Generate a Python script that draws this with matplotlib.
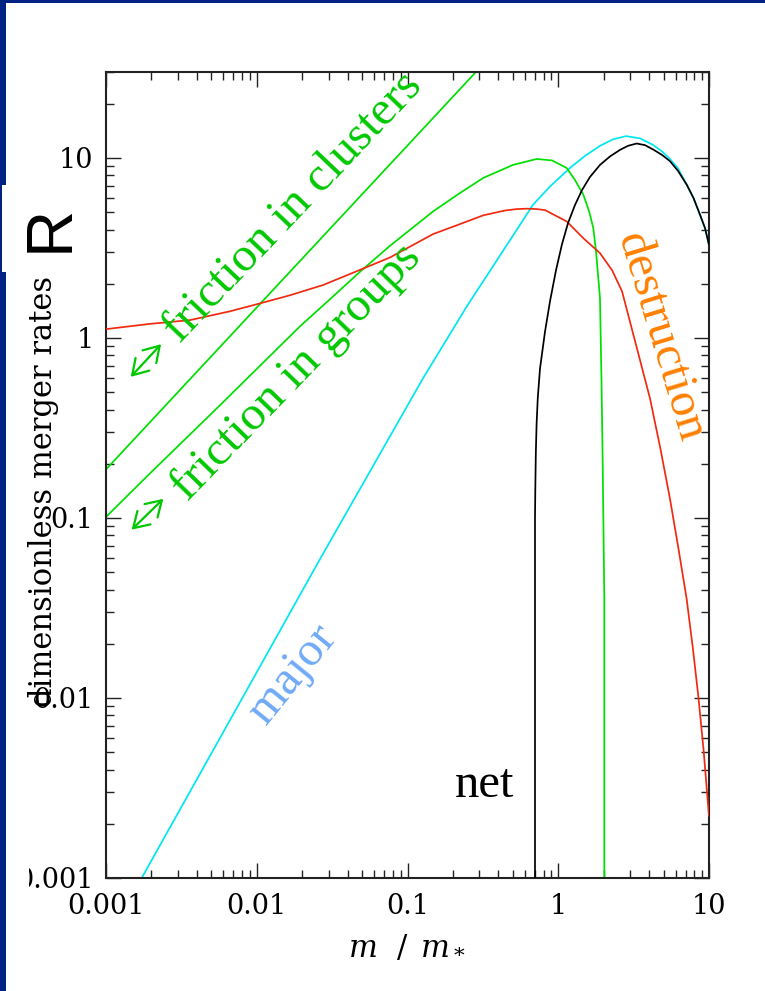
import matplotlib
matplotlib.use("Agg")
import matplotlib.pyplot as plt
from matplotlib.patches import Rectangle
from matplotlib.ticker import FixedLocator, FixedFormatter, LogLocator, NullFormatter

# ---- data: dimensionless merger rates versus m / m_* ----
# major mergers
major_m = [0.001725, 0.02628, 0.1273, 0.2500, 0.4002, 0.6800, 0.8815, 1.1965,
           1.5045, 1.892, 2.3076, 2.814, 3.4855, 4.2512, 4.878, 5.511, 6.231,
           7.114, 7.892, 8.716, 9.408, 10.0]
major_R = [0.001, 0.05909, 0.6003, 1.5174, 2.773, 5.492, 6.938, 8.790,
           10.26, 11.67, 12.68, 13.21, 12.84, 11.81, 10.87, 9.863, 8.740,
           7.100, 5.986, 4.833, 4.074, 3.289]

# net rate
net_m = [0.701, 0.701, 0.7044, 0.7098, 0.7185, 0.731, 0.7568, 0.8168, 0.8815,
         0.9663, 1.059, 1.161, 1.291, 1.438, 1.624, 1.892, 2.204, 2.568,
         2.902, 3.314, 3.763, 4.271, 4.878, 5.511, 6.231, 7.114, 7.892,
         8.716, 9.408, 10.0]
net_R = [0.001, 0.0987, 0.1451, 0.2272, 0.3341, 0.4603, 0.676, 1.083, 1.597,
         2.377, 3.318, 4.344, 5.472, 6.632, 7.839, 9.141, 10.19, 11.08,
         11.67, 12.02, 11.77, 11.12, 10.39, 9.585, 8.466, 7.100, 5.986,
         4.833, 4.074, 3.289]

# dynamical friction in groups
groups_m = [0.001, 0.00196, 0.00556, 0.01936, 0.0306, 0.0484, 0.0766, 0.148,
            0.223, 0.318, 0.501, 0.719, 0.909, 1.138, 1.291, 1.466, 1.600,
            1.708, 1.778, 1.844, 1.892, 1.936, 1.973, 1.996, 2.021, 2.021]
groups_R = [0.1013, 0.177, 0.414, 1.16, 1.640, 2.33, 3.250, 5.047,
            6.383, 7.738, 9.141, 9.863, 9.68, 8.79, 7.535, 6.25, 5.07,
            4.074, 3.069, 2.143, 1.660, 0.573, 0.195, 0.0836, 0.0354, 0.001]

# dynamical friction in clusters (power law)
clusters_m = [0.001, 1.0]
clusters_R = [0.186, 93.0]

# destruction
destr_m = [0.001, 0.00196, 0.00361, 0.00665, 0.01, 0.01663, 0.0276, 0.0484,
           0.0766, 0.148, 0.223, 0.318, 0.444, 0.530, 0.618, 0.717, 0.817,
           1.138, 1.466, 1.892, 2.275, 2.649, 3.327, 4.064, 4.764, 5.508,
           6.281, 7.112, 7.834, 8.492, 9.204, 10.0]
destr_R = [1.119, 1.197, 1.256, 1.406, 1.538, 1.726, 1.968, 2.388,
           2.799, 3.776, 4.289, 4.797, 5.104, 5.195, 5.224, 5.200, 5.129,
           4.436, 3.581, 2.958, 2.377, 1.816, 0.875, 0.460, 0.242, 0.128,
           0.0671, 0.0354, 0.0186, 0.01023, 0.00516, 0.002196]

x_ticks = [0.001, 0.01, 0.1, 1, 10]
x_tick_labels = ["0.001", "0.01", "0.1", "1", "10"]
y_ticks = [0.001, 0.01, 0.1, 1, 10]
y_tick_labels = ["0.001", "0.01", "0.1", "1", "10"]

# ---- colours ----
GREEN_LINE = "#00e000"
GREEN_TEXT = "#00c800"
RED = "#f02a10"
CYAN = "#00e6f0"
ORANGE = "#ff8000"
MAJOR_TEXT = "#70aaf5"
NAVY = "#002284"
AXIS = "#222222"

W, H = 765, 991
fig = plt.figure(figsize=(W / 100, H / 100), dpi=100)
fig.patch.set_facecolor("white")


def fx(px):
    return px / W


def fy(py):
    return 1 - py / H


ax = fig.add_axes([fx(106), fy(878), fx(709) - fx(106), fy(72) - fy(878)])
ax.set_xscale("log")
ax.set_yscale("log")
ax.set_xlim(1e-3, 10)
ax.set_ylim(1e-3, 30)

lw = 1.25
style = dict(lw=lw, solid_joinstyle="round", solid_capstyle="butt")
ax.plot(major_m, major_R, color=CYAN, zorder=2, **style)
ax.plot(groups_m, groups_R, color=GREEN_LINE, zorder=2, **style)
ax.plot(clusters_m, clusters_R, color=GREEN_LINE, zorder=2, **style)
ax.plot(destr_m, destr_R, color=RED, zorder=3, **style)
ax.plot(net_m, net_R, color="black", zorder=4, **style)

# ticks
ax.xaxis.set_major_locator(FixedLocator(x_ticks))
ax.xaxis.set_major_formatter(FixedFormatter(x_tick_labels))
ax.yaxis.set_major_locator(FixedLocator(y_ticks))
ax.yaxis.set_major_formatter(FixedFormatter(y_tick_labels))
for axis in (ax.xaxis, ax.yaxis):
    axis.set_minor_locator(LogLocator(base=10, subs=range(2, 10), numticks=50))
    axis.set_minor_formatter(NullFormatter())
ax.tick_params(which="both", direction="in", top=True, right=True,
               color=AXIS, width=1.0)
ax.tick_params(which="major", length=10.5)
ax.tick_params(which="minor", length=5.5)
ax.tick_params(axis="x", which="major", pad=11)
ax.tick_params(axis="y", which="major", pad=9)
for lab in ax.get_xticklabels() + ax.get_yticklabels():
    lab.set_fontfamily("DejaVu Serif")
    lab.set_fontsize(19.5)
    lab.set_color("black")
for sp in ax.spines.values():
    sp.set_linewidth(1.5)
    sp.set_color(AXIS)

# curve labels
serif = "Liberation Serif"
ax.text(0.0031, 0.920, "friction in clusters", color=GREEN_TEXT, fontsize=35,
        family=serif, rotation=46.5, rotation_mode="anchor",
        ha="left", va="baseline", zorder=5)
ax.text(0.0035, 0.1227, "friction in groups", color=GREEN_TEXT, fontsize=35,
        family=serif, rotation=46, rotation_mode="anchor",
        ha="left", va="baseline", zorder=5)
ax.text(0.01151, 0.00703, "major", color=MAJOR_TEXT, fontsize=35,
        family=serif, rotation=51, rotation_mode="anchor",
        ha="left", va="baseline", zorder=5)
ax.text(4.73, 1.02, "destruction", color=ORANGE, fontsize=35,
        family=serif, rotation=-73, rotation_mode="anchor",
        ha="center", va="center", zorder=5)
ax.text(0.2065, 0.00282, "net", color="black", fontsize=35,
        family=serif, ha="left", va="baseline", zorder=5)

# double-headed arrows next to the friction labels
arrow_style = dict(arrowstyle="<->,head_length=0.45,head_width=0.28",
                   mutation_scale=24, color=GREEN_TEXT, lw=1.6,
                   shrinkA=0, shrinkB=0)
ax.annotate("", xy=(0.00232, 0.923), xytext=(0.00146, 0.608),
            arrowprops=arrow_style, zorder=5)
ax.annotate("", xy=(0.00240, 0.1277), xytext=(0.00148, 0.0861),
            arrowprops=arrow_style, zorder=5)

# axis titles
fig.text(fx(407), fy(947), r"$m\ \ /\ \,m_*$", fontsize=22, ha="center",
         va="center", math_fontfamily="dejavuserif")
fig.text(fx(44), fy(491), "dimensionless merger rates", family="DejaVu Serif",
         fontsize=22, rotation=90, ha="center", va="center", zorder=3)

# slide frame
fig.add_artist(Rectangle((0, 0), fx(6), 1, transform=fig.transFigure,
                         facecolor=NAVY, edgecolor="none", zorder=2))
fig.add_artist(Rectangle((0, fy(3)), 1, 3 / H, transform=fig.transFigure,
                         facecolor=NAVY, edgecolor="none", zorder=2))
# edge of the lowest y tick label hidden by the frame panel
fig.add_artist(Rectangle((fx(6), fy(895)), fx(28.5) - fx(6), 37 / H,
                         transform=fig.transFigure, facecolor="white",
                         edgecolor="none", zorder=3))
# big R symbol on its own white panel
fig.add_artist(Rectangle((fx(2), fy(272)), fx(95) - fx(2), 87 / H,
                         transform=fig.transFigure, facecolor="white",
                         edgecolor="none", zorder=3))
fig.text(fx(51), fy(228), "R", family="Liberation Sans", fontsize=47,
         rotation=90, ha="center", va="center", zorder=4)

fig.savefig("out.png", dpi=100)
